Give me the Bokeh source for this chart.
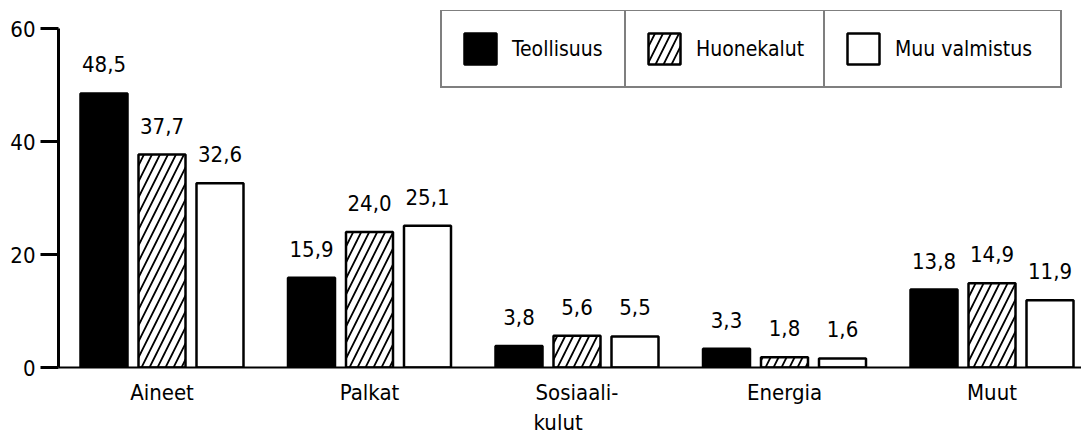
import numpy as np
from bokeh.plotting import figure
from bokeh.models import Legend, LegendItem, FixedTicker, Range1d, ColumnDataSource
from bokeh.core.properties import value
from bokeh.embed import file_html
from bokeh.resources import INLINE

categories = ["Aineet", "Palkat", "Sosiaali-\nkulut\u00a0\u00a0\u00a0\u00a0\u00a0\u00a0", "Energia", "Muut"]
series_names = ["Teollisuus", "Huonekalut", "Muu valmistus"]
teollisuus = [48.5, 15.9, 3.8, 3.3, 13.8]
huonekalut = [37.7, 24.0, 5.6, 1.8, 14.9]
muu_valmistus = [32.6, 25.1, 5.5, 1.6, 11.9]
y_ticks = [0, 20, 40, 60]

FONT = "DejaVu Sans Condensed"
offsets = [-0.2795, 0.0, 0.2795]
bar_w = 0.2265

p = figure(width=1081, height=438, x_range=Range1d(-0.4988, 4.4313), y_range=Range1d(0, 63.19),
           output_backend="svg", toolbar_location=None,
           min_border_left=58, min_border_right=0, min_border_top=10, min_border_bottom=71)
p.outline_line_color = None
p.xgrid.grid_line_color = None
p.ygrid.grid_line_color = None

styles = [
    dict(fill_color="black", line_color="black"),
    dict(fill_color="white", line_color="black", hatch_pattern="/", hatch_color="black",
         hatch_scale=16, hatch_weight=1.8),
    dict(fill_color="white", line_color="black"),
]

renderers = []
for vals, off, st in zip([teollisuus, huonekalut, muu_valmistus], offsets, styles):
    xs = np.arange(len(categories)) + off
    src = ColumnDataSource(dict(x=xs, top=vals,
                                lab=[f"{v:.1f}".replace(".", ",") for v in vals]))
    r = p.vbar(x="x", top="top", width=bar_w, source=src, line_width=2.5, **st)
    renderers.append(r)
    p.text(x="x", y="top", text="lab", source=src, y_offset=-21, text_align="center",
           text_baseline="bottom", text_font=value(FONT), text_font_size="22px",
           text_color="black")

xa = p.xaxis[0]
xa.ticker = FixedTicker(ticks=list(range(len(categories))))
xa.major_label_overrides = {i: c for i, c in enumerate(categories)}
xa.major_tick_line_color = None
xa.minor_tick_line_color = None
xa.axis_line_width = 2
xa.major_label_text_font = FONT
xa.major_label_text_font_size = "22px"
xa.major_label_text_color = "black"
xa.major_label_standoff = 6

ya = p.yaxis[0]
ya.ticker = FixedTicker(ticks=y_ticks)
ya.bounds = (y_ticks[0], y_ticks[-1])
ya.minor_tick_line_color = None
ya.major_tick_out = 18
ya.major_tick_in = 0
ya.major_tick_line_width = 3
ya.major_tick_line_color = "#000000"
ya.axis_line_width = 3
ya.axis_line_color = "#000000"
ya.major_label_text_font = FONT
ya.major_label_text_font_size = "22px"
ya.major_label_text_color = "black"
ya.major_label_standoff = 5

legend_lefts = [382, 566, 765]
label_widths = [96, 111, 147]
for name, r, lx, lw in zip(series_names, renderers, legend_lefts, label_widths):
    lg = Legend(items=[LegendItem(label=name, renderers=[r])], location=(lx, 279),
                orientation="horizontal", margin=0, padding=18, spacing=0,
                glyph_width=40, glyph_height=39, label_standoff=12, label_width=lw,
                label_text_font=FONT, label_text_font_size="21px",
                label_text_color="black", border_line_color="black",
                border_line_width=2.5, background_fill_alpha=1.0)
    p.add_layout(lg, "center")

open("out.html", "w").write(file_html(p, INLINE))
